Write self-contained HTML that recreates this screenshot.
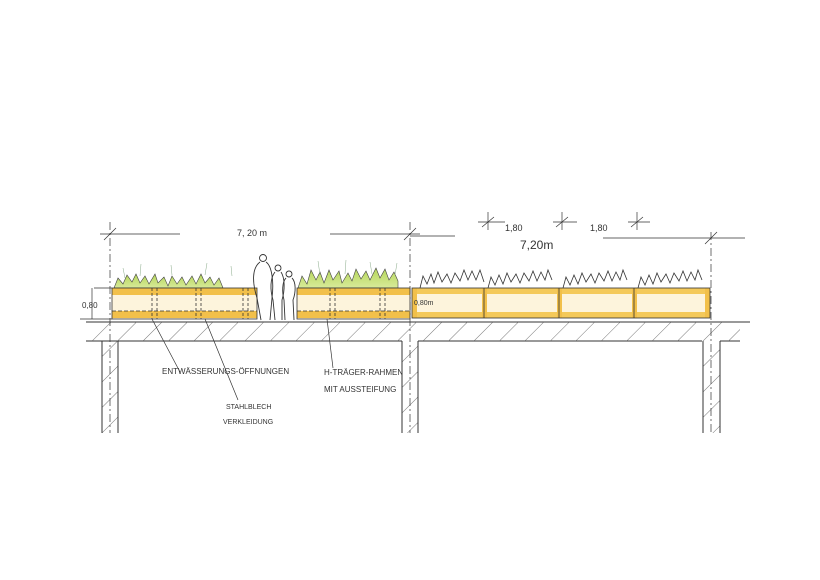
<!DOCTYPE html>
<html><head><meta charset="utf-8"><style>
html,body{margin:0;padding:0;background:#fff;}
svg{display:block}
text{font-family:"Liberation Sans",sans-serif;fill:#333;}
</style></head><body>
<svg width="820" height="580" viewBox="0 0 820 580" xmlns="http://www.w3.org/2000/svg">
<defs>
<pattern id="h" width="18" height="18" patternUnits="userSpaceOnUse" patternTransform="rotate(45)">
<line x1="0" y1="0" x2="0" y2="18" stroke="#555" stroke-width="0.8"/>
</pattern>
<linearGradient id="g" x1="0" y1="0" x2="0" y2="1">
<stop offset="0" stop-color="#b5d65a"/><stop offset="1" stop-color="#d8ea9a"/>
</linearGradient>
</defs>
<rect width="820" height="580" fill="#fff"/>

<path d="M86 322 H750 M86 341 H402 M418 341 H702 M720 341 H740" stroke="#333" stroke-width="1" fill="none"/>
<rect x="86" y="322" width="654" height="19" fill="url(#h)"/>
<rect x="102" y="341" width="16" height="92" fill="url(#h)"/>
<rect x="402" y="341" width="16" height="92" fill="url(#h)"/>
<rect x="703" y="341" width="17" height="92" fill="url(#h)"/>
<g stroke="#333" stroke-width="1">
<line x1="102" y1="341" x2="102" y2="433"/><line x1="118" y1="341" x2="118" y2="433"/>
<line x1="402" y1="341" x2="402" y2="433"/><line x1="418" y1="341" x2="418" y2="433"/>
<line x1="703" y1="341" x2="703" y2="433"/><line x1="720" y1="341" x2="720" y2="433"/>
<line x1="110" y1="222" x2="110" y2="433" stroke-dasharray="8 3 2 3" stroke-width="0.7"/>
<line x1="410" y1="222" x2="410" y2="433" stroke-dasharray="8 3 2 3" stroke-width="0.7"/>
<line x1="711" y1="232" x2="711" y2="433" stroke-dasharray="8 3 2 3" stroke-width="0.7"/>
</g>

<path d="M114 288 l4-10 5 6 4-9 5 7 4-8 4 9 5-7 4 8 6-10 3 9 6-6 4 9 4-10 5 8 5-7 4 8 6-9 4 8 5-10 4 9 5-6 4 8 5-7 4 10 V288 Z" fill="url(#g)" stroke="#444" stroke-width="0.6"/>
<path d="M298 288 l4-12 5 8 4-14 5 10 4-8 4 11 5-13 4 10 6-9 3 12 6-10 4 8 4-12 5 10 5-8 4 9 6-12 4 10 5-9 4 11 5-8 4 9 V288 Z" fill="url(#g)" stroke="#444" stroke-width="0.6"/>
<g stroke="#8a8" stroke-width="0.5">
<path d="M125 278 l-2-10 M140 276 l1-12 M172 275 l-1-10 M205 275 l2-12 M232 276 l-1-10 M320 275 l-2-14 M345 274 l1-14 M372 274 l-2-12 M395 275 l2-12"/>
</g>
<g>
<rect x="112" y="288" width="145" height="31" fill="#fdf4dc"/>
<rect x="112" y="288" width="145" height="7" fill="#f2c04a"/>
<rect x="112" y="311" width="145" height="7" fill="#f2c04a"/>
<rect x="297" y="288" width="113" height="31" fill="#fdf4dc"/>
<rect x="297" y="288" width="113" height="7" fill="#f2c04a"/>
<rect x="297" y="311" width="113" height="7" fill="#f2c04a"/>
<g stroke="#333" stroke-width="0.8" fill="none">
<rect x="112" y="288" width="145" height="31"/>
<rect x="297" y="288" width="113" height="31"/>
<line x1="112" y1="311" x2="257" y2="311" stroke-dasharray="4 2"/>
<line x1="297" y1="311" x2="410" y2="311" stroke-dasharray="4 2"/>
<path d="M152 288v31M157 288v31M196 288v31M201 288v31M243 288v31M248 288v31M330 288v31M335 288v31M380 288v31M385 288v31" stroke-dasharray="3 2"/>
</g>
</g>
<g stroke="#333" stroke-width="0.9" fill="none">
<circle cx="263" cy="258" r="3.5"/>
<path d="M260 262 c-8 6 -8 20 -3 36 l4 22 M266 262 c6 4 8 20 6 36 l-2 22"/>
<circle cx="278" cy="268" r="3"/>
<path d="M275 272 c-5 6 -5 18 -2 28 l2 20 M281 272 c4 6 4 18 1 28 v20"/>
<circle cx="289" cy="274" r="3"/>
<path d="M286 278 c-4 4 -4 14 -2 22 l1 20 M292 278 c4 4 4 14 1 22 l1 20"/>
</g>

<g>
<rect x="412" y="288" width="298" height="30" fill="#fdf4dc"/>
<rect x="412" y="288" width="298" height="6" fill="#f4c95a"/>
<rect x="412" y="312" width="298" height="6" fill="#f4c95a"/>
<g fill="#f2c04a"><rect x="412" y="288" width="5" height="30"/><rect x="482" y="288" width="5" height="30"/><rect x="557" y="288" width="5" height="30"/><rect x="632" y="288" width="5" height="30"/><rect x="705" y="288" width="5" height="30"/></g>
<g stroke="#333" stroke-width="0.8" fill="none">
<rect x="412" y="288" width="298" height="30"/>
<path d="M484 288v30M559 288v30M634 288v30"/>
<path d="M420 288 l3-12 4 8 4-10 3 9 4-11 4 10 5-8 4 9 4-10 5 8 4-11 4 10 4-9 4 9 4-10 4 12 M488 288 l3-11 4 8 4-10 4 9 4-11 4 9 5-8 4 9 4-10 5 8 4-10 4 10 4-9 4 8 3-10 4 10 M563 288 l3-11 4 8 4-10 4 9 4-11 4 9 5-8 4 9 4-10 5 8 4-10 4 10 4-9 4 8 3-10 4 10 M638 288 l3-11 4 8 4-10 4 9 4-11 4 9 5-8 4 9 4-10 5 8 4-10 4 10 4-9 4 8 3-10 4 10"/>
</g>
</g>

<g stroke="#333" stroke-width="0.7" fill="none">
<line x1="100" y1="234" x2="180" y2="234"/><line x1="330" y1="234" x2="420" y2="234"/>
<line x1="104" y1="240" x2="116" y2="228"/><line x1="404" y1="240" x2="416" y2="228"/>
<line x1="478" y1="222" x2="505" y2="222"/><line x1="553" y1="222" x2="577" y2="222"/><line x1="628" y1="222" x2="650" y2="222"/>
<line x1="488" y1="212" x2="488" y2="230"/><line x1="562" y1="212" x2="562" y2="230"/><line x1="637" y1="212" x2="637" y2="230"/>
<line x1="482" y1="227" x2="494" y2="217"/><line x1="556" y1="227" x2="568" y2="217"/><line x1="631" y1="227" x2="643" y2="217"/>
<line x1="603" y1="238" x2="745" y2="238"/><line x1="705" y1="244" x2="717" y2="232"/>
<line x1="410" y1="236" x2="455" y2="236"/>
<line x1="94" y1="288" x2="112" y2="288"/><line x1="80" y1="319" x2="112" y2="319"/>
<line x1="92" y1="288" x2="92" y2="319"/>
<path d="M152 319 L180 372 M205 319 L238 400 M327 319 L333 368"/>
</g>
<g font-size="9">
<text x="237" y="236">7, 20 m</text>
<text x="505" y="231">1,80</text>
<text x="590" y="231">1,80</text>
<text x="520" y="249" font-size="12">7,20m</text>
<text x="82" y="308" font-size="8">0,80</text>
<text x="414" y="305" font-size="7">0,80m</text>
<text x="162" y="374" font-size="8">ENTWÄSSERUNGS-ÖFFNUNGEN</text>
<text x="324" y="375" font-size="8">H-TRÄGER-RAHMEN</text>
<text x="324" y="392" font-size="8">MIT AUSSTEIFUNG</text>
<text x="226" y="409" font-size="7">STAHLBLECH</text>
<text x="223" y="424" font-size="7">VERKLEIDUNG</text>
</g>
</svg>
</body></html>
